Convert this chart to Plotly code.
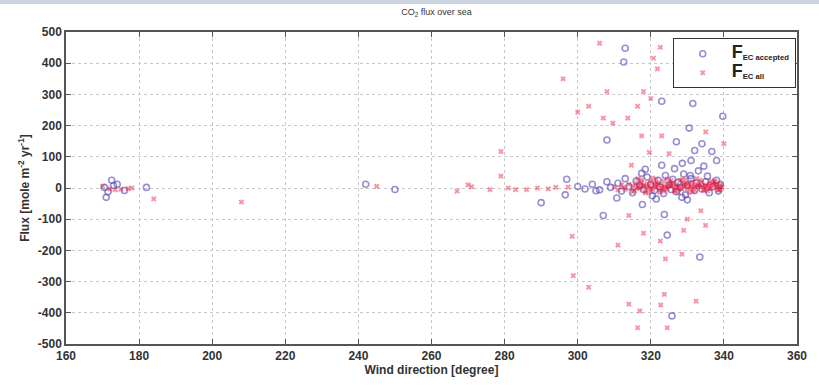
import plotly.graph_objects as go

# Wind direction [degree] and CO2 flux [mole m-2 yr-1] for accepted EC samples
acc_dir = [170.5, 171, 171.5, 172.5, 173, 174, 176, 182,
           242, 250,
           290, 297, 296.6, 305, 307, 308, 310.7, 312.6, 313, 317.7, 317.5, 320.4,
           323, 323, 323.7, 324.5, 325.8, 327, 328.6, 330, 330.5, 331, 331.5, 332,
           333.4, 334, 336.7, 338, 339.7,
           300, 302, 304, 306, 308, 309, 311, 312, 313, 314, 315, 316, 317, 318,
           319, 320, 321, 322, 322.5, 323.5, 324, 325, 325.5, 326, 327, 327.5, 328,
           329, 329.5, 330, 331, 332, 332.5, 333, 334, 335, 335.5, 336, 337, 338,
           338.5, 339, 318.5, 326.5, 330.8, 334.5, 321.5, 328.5]
acc_flux = [2, -30, -12, 25, 8, 12, -8, 2,
            12, -5,
            -47, 28, -22, -9, -88, 154, -32, 404, 448, -53, 47, -25,
            278, 73, -85, -151, -410, 148, 79, -38, 192, 88, 271, 120,
            -221, 142, 117, 88, 230,
            5, -3, 12, -6, 20, 2, 15, -10, 30, 5, -15, 22, 8, -5,
            35, 12, -8, 25, 3, -18, 40, 10, -5, 28, -12, 18, 2,
            45, -22, 8, 30, -8, 15, 55, -3, 20, 38, -15, 5, 25,
            -10, 12, 60, 62, 40, 70, -35, -30]

# All EC samples
all_dir = [170, 172, 173.5, 175, 177, 178, 184, 208,
           245, 267, 270, 271, 276, 279, 279, 281, 283, 286, 289, 292, 294,
           296, 297.4, 298.5, 298.8, 300, 303, 303, 306, 307, 308, 309.6, 311,
           313.7, 314, 314, 314.7, 316.4, 316.4, 317, 317.5, 318, 318, 319.6, 320,
           320.7, 321.8, 322.6, 322.6, 322.7, 323, 323.7, 324, 324.5, 325, 328.5,
           329, 330, 332.4, 333.7, 335, 335, 340,
           310, 311, 312, 312.5, 313, 314, 315, 315.5, 316, 316.5, 317, 317.5,
           318, 318.5, 319, 319.5, 320, 320.5, 321, 321.5, 322, 322.5, 323, 323.5,
           324, 324.5, 325, 325.5, 326, 326.5, 327, 327.5, 328, 328.5, 329, 329.5,
           330, 330.5, 331, 331.5, 332, 332.5, 333, 333.5, 334, 334.5, 335, 335.5,
           336, 336.5, 337, 337.5, 338, 338.5, 339, 339.5,
           316, 318, 320, 322, 324, 326, 328, 330, 332, 334, 336, 338,
           317, 319, 321, 323, 325, 327, 329, 331, 333, 335, 337, 339,
           315, 317.5, 319.5, 321.5, 323.5, 325.5, 327.5, 329.5, 331.5, 333.5, 335.5, 337.5, 339,
           316.5, 318.5, 320.5, 322.5, 324.5, 326.5, 328.5, 330.5, 332.5, 334.5, 336.5, 338.5]
all_flux = [5, -3, -6, -4, -2, 0, -35, -45,
            5, -10, 10, 4, -5, 117, 38, 0, -5, -5, 0, -3, 2,
            350, 3, -155, -281, 243, 262, -318, 464, 224, 309, 208, -183,
            224, -88, -372, 73, 262, -448, -394, 167, 309, -145, 114, 287,
            416, 382, 451, -170, -375, 167, -341, -227, -448, 110, -212,
            -136, -100, -363, -73, 180, -120, 142,
            4, -6, 10, 2, -4, 12, 6, -8, 15, 3, -2, 18, 8, -10, 14, 5, 20, -5,
            10, 2, 16, -6, 8, 22, 4, -3, 12, 6, 18, -8, 10, 2, 24, -4, 14, 7,
            -2, 16, 5, 20, -6, 9, 12, 3, 18, -4, 10, 6, 15, -2, 8, 20, 4, -5,
            12, 3,
            0, 6, -2, 10, 2, 8, 0, 12, 4, 6, 0, 10,
            8, 2, 14, 0, 9, 4, 11, 1, 7, 3, 12, 5,
            -12, 26, -14, 28, -10, 24, -15, 27, -12, 25, -9, 22, -6,
            30, -16, 32, -13, 29, -11, 26, -14, 31, -8, 23, -7, 18]

x_ticks = [160, 180, 200, 220, 240, 260, 280, 300, 320, 340, 360]
y_ticks = [-500, -400, -300, -200, -100, 0, 100, 200, 300, 400, 500]

FONT = "Arial, Liberation Sans, sans-serif"

fig = go.Figure()

fig.add_trace(go.Scatter(
    x=acc_dir, y=acc_flux, mode="markers",
    name="<b><span style='font-size:18px'>F</span><sub>EC accepted</sub></b>",
    marker=dict(symbol="circle-open", size=6, color="rgba(80,70,180,0.6)",
                line=dict(width=1.6)),
))
fig.add_trace(go.Scatter(
    x=all_dir, y=all_flux, mode="markers",
    name="<b><span style='font-size:18px'>F</span><sub>EC all</sub></b>",
    marker=dict(symbol="x", size=5, color="rgba(235,20,50,0.45)", line=dict(width=0)),
))

axis_common = dict(
    showline=True, linecolor="#555", linewidth=1.5, mirror="ticks",
    ticks="inside", ticklen=5, tickcolor="#555",
    showgrid=True, gridcolor="#c8c8c8", griddash="dot", gridwidth=1,
    zeroline=False,
    tickfont=dict(family=FONT, size=12, color="#333"),
)

fig.update_layout(
    width=819, height=386,
    margin=dict(l=66, r=14, t=32, b=37),
    paper_bgcolor="white", plot_bgcolor="white",
    title=dict(text="CO<sub>2</sub> flux over sea", x=0.533, xanchor="center",
               y=0.97, yanchor="middle",
               font=dict(family=FONT, size=9, color="#333")),
    xaxis=dict(range=[160, 360], tickvals=x_ticks,
               ticktext=[f"<b>{v}</b>" for v in x_ticks],
               title=dict(text="<b>Wind direction [degree]</b>", standoff=2,
                          font=dict(family=FONT, size=12, color="#333")),
               **axis_common),
    yaxis=dict(range=[-500, 500], tickvals=y_ticks,
               ticktext=[f"<b>{v}</b>" for v in y_ticks],
               title=dict(text="<b>Flux [mole m<sup>-2</sup> yr<sup>-1</sup>]</b>", standoff=6,
                          font=dict(family=FONT, size=12, color="#333")),
               **axis_common),
    legend=dict(x=0.83, y=0.98, xanchor="left", yanchor="top",
                bgcolor="white", bordercolor="#333", borderwidth=1,
                font=dict(family=FONT, size=11, color="#222"),
                itemwidth=48, tracegroupgap=2),
    showlegend=True,
    shapes=[dict(type="rect", xref="paper", yref="paper",
                 x0=-0.1, x1=1.1, y0=1.09, y1=1.2,
                 fillcolor="#cdd5e0", line=dict(width=0), layer="below")],
)

fig.write_html("out.html")
